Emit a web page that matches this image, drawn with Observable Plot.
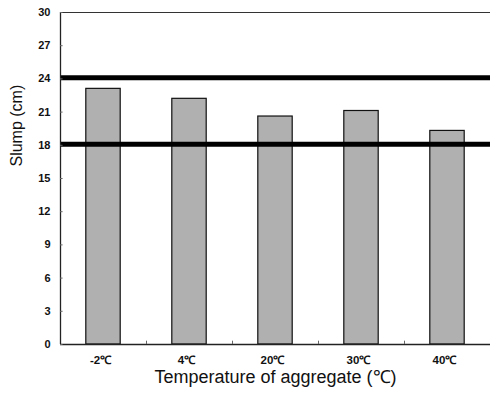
<!DOCTYPE html>
<html><head><meta charset="utf-8">
<script src="https://cdn.jsdelivr.net/npm/d3@7"></script>
<script src="https://cdn.jsdelivr.net/npm/@observablehq/plot@0.6"></script>
<style>body{margin:0;background:#fff}</style>
</head><body><div id="chart"></div>
<script>
const categories = ["-2℃", "4℃", "20℃", "30℃", "40℃"];
const slump = [23.1, 22.2, 20.6, 21.1, 19.3];
const limits = [24.1, 18.1];
const yTicks = [0, 3, 6, 9, 12, 15, 18, 21, 24, 27, 30];
const yLabel = "Slump (cm)";
const xLabel = "Temperature of aggregate (℃)";

const data = categories.map((c, i) => ({c, v: slump[i], i}));
const bounds = d3.range(1, categories.length);

const plot = Plot.plot({
  width: 490, height: 393,
  marginLeft: 60, marginRight: 0, marginTop: 12, marginBottom: 49,
  style: {fontFamily: "'Liberation Sans', Arial, sans-serif", background: "#fff", color: "#111"},
  x: {domain: [0, categories.length], axis: null},
  y: {domain: [0, 30], axis: null},
  marks: [
    Plot.rectY(data, {x1: d => d.i + 0.3, x2: d => d.i + 0.7, y: "v", fill: "#b0b0b0", stroke: "#111", strokeWidth: 1.2}),
    Plot.ruleY(limits, {stroke: "#000", strokeWidth: 5}),
    Plot.ruleY([30], {stroke: "#333", strokeWidth: 1}),
    Plot.ruleY([0], {stroke: "#222", strokeWidth: 1.3}),
    Plot.ruleX([0], {stroke: "#222", strokeWidth: 1.3}),
    Plot.ruleX(bounds, {y1: 0, y2: 0.3, stroke: "#666"}),
    Plot.ruleY(yTicks, {x1: 0, x2: 0.03, stroke: "#666"}),
    Plot.axisY({ticks: yTicks, tickSize: 0, tickPadding: 10, fontSize: 11, fontWeight: "bold", label: null}),
    Plot.text(data, {x: d => d.i + 0.5, frameAnchor: "bottom", dy: 19, text: "c", fontSize: 11.5, fontWeight: "bold", dx: -3}),
    Plot.text([xLabel], {frameAnchor: "bottom", dy: 38, fontSize: 18}),
    Plot.text([yLabel], {frameAnchor: "left", dx: -44, dy: -12, rotate: -90, fontSize: 16})
  ]
});
document.getElementById("chart").append(plot);
</script>
</body></html>
